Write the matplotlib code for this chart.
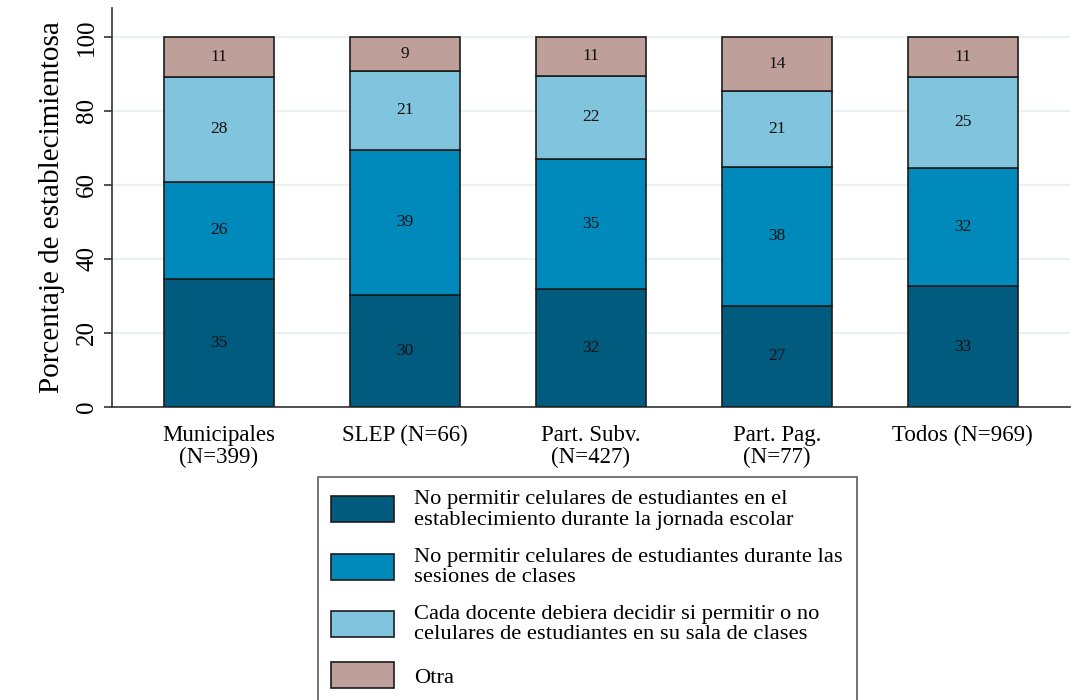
import matplotlib
matplotlib.use("Agg")
import matplotlib.pyplot as plt
import numpy as np

categories = ["Municipales\n(N=399)", "SLEP (N=66)", "Part. Subv.\n(N=427)", "Part. Pag.\n(N=77)", "Todos (N=969)"]
series_names = [
    "No permitir celulares de estudiantes en el\nestablecimiento durante la jornada escolar",
    "No permitir celulares de estudiantes durante las\nsesiones de clases",
    "Cada docente debiera decidir si permitir o no\ncelulares de estudiantes en su sala de clases",
    "Otra",
]
no_establecimiento = [34.6, 30.3, 31.8, 27.3, 32.6]
no_sesiones = [26.2, 39.2, 35.3, 37.6, 32.0]
cada_docente = [28.4, 21.3, 22.3, 20.6, 24.6]
otra = [10.8, 9.2, 10.6, 14.5, 10.8]
series = [no_establecimiento, no_sesiones, cada_docente, otra]
colors = ["#005b7e", "#0089bb", "#80c4de", "#bf9f99"]
yticks = [0, 20, 40, 60, 80, 100]

plt.rcParams['font.family'] = ['Liberation Serif', 'DejaVu Serif']

fig = plt.figure(figsize=(10.73, 7.0), dpi=100)
ax = fig.add_axes([0.1044, 0.4186, 0.8926, 0.57])

x = np.arange(len(categories))
bottom = np.zeros(len(categories))
handles = []
for vals, col, name in zip(series, colors, series_names):
    v = np.array(vals)
    bars = ax.bar(x, v, width=0.59, bottom=bottom, color=col, edgecolor="#1c1c1c",
                  linewidth=1.2, label=name, zorder=3)
    handles.append(bars)
    for xi, b, h in zip(x, bottom, v):
        ax.text(xi, b + h / 2, f"{h:.0f}", ha="center", va="center", fontsize=12.5,
                color="#111111", zorder=4)
    bottom += v

ax.set_xlim(-0.575, 4.575)
ax.set_ylim(0, 107.8)
ax.set_yticks(yticks)
ax.set_yticklabels([str(t) for t in yticks], rotation=90, va="center", fontsize=18)
ax.set_xticks(x)
ax.set_xticklabels(categories, fontsize=16.5, linespacing=1.05)
ax.tick_params(axis="x", length=0, pad=13)
ax.tick_params(axis="y", length=6, width=1.2, color="#333333", pad=4)
ax.yaxis.grid(True, color="#e8f0f2", linewidth=1.5, zorder=0)
ax.set_axisbelow(True)
for s in ["top", "right"]:
    ax.spines[s].set_visible(False)
for s in ["left", "bottom"]:
    ax.spines[s].set_color("#333333")
    ax.spines[s].set_linewidth(1.2)
ax.set_ylabel("Porcentaje de establecimientosa", fontsize=21, labelpad=8)

leg = fig.legend(handles=handles, labels=series_names, loc="upper left",
                 bbox_to_anchor=(0.296, 0.319), bbox_transform=fig.transFigure,
                 fontsize=16.2, frameon=True, fancybox=False, edgecolor="#333333",
                 handlelength=2.8, handleheight=1.4, labelspacing=0.8,
                 borderpad=0.6, handletextpad=0.9, borderaxespad=0)
leg.get_frame().set_linewidth(1.2)
for t in leg.get_texts():
    t.set_linespacing(1.1)

fig.savefig("out.png", dpi=100)
